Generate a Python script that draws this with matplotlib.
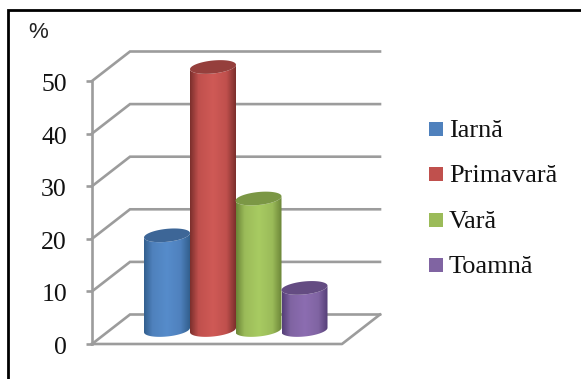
import numpy as np
import matplotlib
matplotlib.use("Agg")
import matplotlib.pyplot as plt
from matplotlib.colors import LinearSegmentedColormap
from matplotlib.lines import Line2D
from matplotlib.patches import PathPatch, Rectangle
from matplotlib.path import Path
from matplotlib.transforms import ScaledTranslation

plt.rcParams['font.family'] = ['Liberation Serif', 'DejaVu Sans']

seasons = ["Iarnă", "Primavară", "Vară", "Toamnă"]
values = [18, 50, 25, 8]
colors = ["#4f81bd", "#c0504d", "#9bbb59", "#8064a2"]
light = ["#568ccb", "#cf5a56", "#a8cb62", "#8c6db1"]
dark = ["#33608f", "#7d302d", "#6c8638", "#553f78"]
top_col = ["#3d6697", "#953f3c", "#7b9745", "#644c82"]
yticks = [0, 10, 20, 30, 40, 50]

W, H = 581, 379
fig = plt.figure(figsize=(W / 100, H / 100), dpi=100)

# y=0 sits on the floor line (344px), 50 on the tick at 81px, ylim goes higher for the bar tops
x0, x1 = 92, 342
y0, y50 = 344, 81
unit = (y0 - y50) / 50
ymax = 62
ax = fig.add_axes([x0 / W, 1 - y0 / H, (x1 - x0) / W, ymax * unit / H])
ax.patch.set_visible(False)
for s in ax.spines.values():
    s.set_visible(False)
ax.set_xticks([])
ax.set_yticks(yticks)
ax.set_yticklabels([str(t) for t in yticks], fontsize=18.5, color="#111111")
ax.tick_params(axis='y', length=0, pad=18)
for lbl in ax.get_yticklabels():
    lbl.set_transform(lbl.get_transform() + ScaledTranslation(0, -0.015, fig.dpi_scale_trans))

dx, dy = 38, 29.5 / unit
grid_c = "#9c9c9c"
lw = 1.9
for t in yticks:
    ax.plot([x0 - 6, x0], [t, t], color=grid_c, lw=lw, clip_on=False, solid_capstyle='butt')
    ax.plot([x0, x0 + dx, x1 + dx], [t, t + dy, t + dy], color=grid_c, lw=lw, clip_on=False,
            solid_joinstyle='miter')
ax.plot([x0, x0], [0, 50], color=grid_c, lw=lw, clip_on=False)
ax.plot([x0, x1, x1 + dx], [0, 0, dy], color=grid_c, lw=lw, clip_on=False)

# cylinders
centers = [167, 213, 258.5, 304.5]
half_w = 23
ell_h = 13 / unit
base = 14 / unit
tilt = 2.2 / 23 / unit

for i, v in enumerate(values):
    cx = centers[i]
    top = base + v
    shade = LinearSegmentedColormap.from_list(
        "c" + str(i), [(0, dark[i]), (0.18, colors[i]), (0.5, light[i]), (0.8, colors[i]), (1, dark[i])])
    th = np.linspace(np.pi, 2 * np.pi, 40)
    xb = cx + half_w * np.cos(th)
    yb = base + ell_h / 2 * np.sin(th) + (xb - cx) * tilt
    yt = top + ell_h / 2 * np.sin(th) + (xb - cx) * tilt
    body = np.vstack([np.column_stack([xb, yb]), np.column_stack([xb[::-1], yt[::-1]]), [[xb[0], yb[0]]]])
    patch = PathPatch(Path(body), fc="none", ec="none", zorder=3 + i)
    ax.add_patch(patch)
    im = ax.imshow(np.linspace(0, 1, 64)[None, :], cmap=shade, aspect='auto',
                   extent=[cx - half_w, cx + half_w, 0, ymax], zorder=3 + i)
    im.set_clip_path(patch)
    th = np.linspace(0, 2 * np.pi, 80)
    xs = cx + half_w * np.cos(th)
    ys = top + ell_h / 2 * np.sin(th) + (xs - cx) * tilt
    ax.fill(xs, ys, color=top_col[i], lw=0, zorder=3 + i + 0.5)
ax.set_xlim(x0, x1)
ax.set_ylim(0, ymax)

# percent label and legend, placed in figure pixels
fig.text(38 / W, 1 - 33 / H, "%", fontsize=16, family="Liberation Sans", color="#222222",
         ha='center', va='center')
box_y = [129, 174, 220, 265]
text_y = [131, 176, 222, 267]
for name, c, by, ty in zip(seasons, colors, box_y, text_y):
    fig.patches.append(Rectangle((429 / W, 1 - (by + 7) / H), 14 / W, 14 / H, fc=c, ec="none",
                                 transform=fig.transFigure))
    fig.text(449 / W, 1 - ty / H, name, fontsize=19, color="#111111", va='center')

# frame of the source picture: only top and left edges are visible
fig.add_artist(Line2D([8 / W, 8 / W, 1], [0, 1 - 9.5 / H, 1 - 9.5 / H], color="black", lw=2,
                      solid_joinstyle='miter'))

fig.savefig("out.png", dpi=100)
